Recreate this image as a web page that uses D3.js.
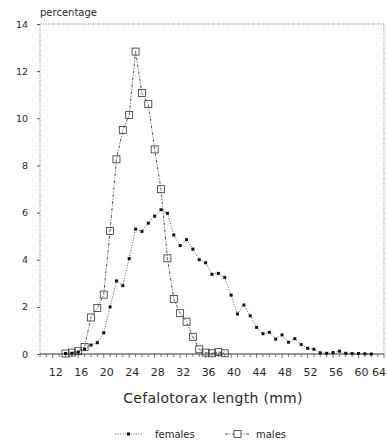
<!DOCTYPE html>
<html>
<head>
<meta charset="utf-8">
<script src="https://cdn.jsdelivr.net/npm/d3@7"></script>
<style>
  body { margin: 0; background: #fff; }
  text { font-family: "DejaVu Sans", sans-serif; fill: #2a2a2a; }
</style>
</head>
<body>
<div id="chart"></div>
<script>
// cephalothorax length classes (mm)
var femaleSizes = d3.range(14, 63);
var femaleValues = [0.02, 0.03, 0.08, 0.21, 0.38, 0.48, 0.9, 2.0, 3.1, 2.9,
    4.05, 5.3, 5.2, 5.55, 5.85, 6.12, 5.97, 5.05, 4.6, 4.85,
    4.45, 4.0, 3.87, 3.38, 3.42, 3.25, 2.5, 1.7, 2.08, 1.62,
    1.13, 0.86, 0.92, 0.63, 0.81, 0.5, 0.65, 0.4, 0.24, 0.2,
    0.05, 0.03, 0.06, 0.12, 0.03, 0.02, 0.02, 0.01, 0.0];
var maleSizes = d3.range(14, 40);
var maleValues = [0.02, 0.06, 0.12, 0.3, 1.55, 1.95, 2.52, 5.22, 8.26, 9.5,
    10.14, 12.83, 11.07, 10.6, 8.68, 6.99, 4.06, 2.33, 1.73, 1.37,
    0.73, 0.2, 0.06, 0.03, 0.08, 0.03];
var xTickLabels = [12, 16, 20, 24, 28, 32, 36, 40, 44, 48, 52, 56, 60, 64];
var yTickLabels = [0, 2, 4, 6, 8, 10, 12, 14];

var width = 387, height = 443;
var svg = d3.select('#chart').append('svg')
    .attr('width', width)
    .attr('height', height);

var x = d3.scaleLinear().domain([10, 64]).range([40, 384]);
var y = d3.scaleLinear().domain([0, 14]).range([354, 24]);

var ink = '#444';

// frame: dotted left, top and right sides
svg.append('path')
    .attr('d', 'M' + x(64) + ',' + y(0) + 'V' + y(14) + 'H' + x(10) + 'V' + y(0))
    .attr('fill', 'none')
    .attr('stroke', '#777')
    .attr('stroke-width', 1)
    .attr('stroke-dasharray', '1,1.5');

// x axis with a minor tick every mm
var xAxis = svg.append('g')
    .attr('transform', 'translate(0,' + y(0) + ')');
xAxis.append('line')
    .attr('x1', x(10)).attr('x2', x(64))
    .attr('stroke', '#333').attr('stroke-width', 1.2);
xAxis.selectAll('.minor')
    .data(d3.range(10, 65))
    .enter().append('line')
    .attr('class', 'minor')
    .attr('x1', function (d) { return x(d); })
    .attr('x2', function (d) { return x(d); })
    .attr('y1', 0)
    .attr('y2', function (d) { return d % 4 === 0 ? 4 : 3; })
    .attr('stroke', '#555').attr('stroke-width', 0.8);
xAxis.selectAll('.xlab')
    .data(xTickLabels)
    .enter().append('text')
    .attr('class', 'xlab')
    // the last label sits against the right edge
    .attr('x', function (d) { return d === 64 ? width - 1 : x(d) + 3; })
    .attr('y', 22)
    .attr('text-anchor', function (d) { return d === 64 ? 'end' : 'middle'; })
    .attr('font-size', 11)
    .text(function (d) { return d; });

// y axis
var yAxis = svg.append('g')
    .attr('transform', 'translate(' + x(10) + ',0)')
    .call(d3.axisLeft(y).tickValues(yTickLabels).tickSize(3).tickPadding(9));
yAxis.select('.domain').remove();
yAxis.selectAll('line').attr('stroke', '#555');
yAxis.selectAll('text')
    .attr('font-size', 9.5)
    .attr('font-family', '"DejaVu Sans", sans-serif')
    .attr('fill', '#2a2a2a');

svg.append('text')
    .attr('x', 40)
    .attr('y', 16)
    .attr('font-size', 10)
    .text('percentage');

svg.append('text')
    .attr('x', 213)
    .attr('y', 403)
    .attr('text-anchor', 'middle')
    .attr('font-size', 14)
    .attr('letter-spacing', 0.3)
    .text('Cefalotorax length (mm)');

var line = d3.line()
    .x(function (d) { return x(d[0]); })
    .y(function (d) { return y(d[1]); });

var females = d3.zip(femaleSizes, femaleValues);
var males = d3.zip(maleSizes, maleValues);

svg.append('path')
    .datum(females)
    .attr('d', line)
    .attr('fill', 'none')
    .attr('stroke', ink)
    .attr('stroke-width', 0.9)
    .attr('stroke-dasharray', '1,1.6');

svg.append('path')
    .datum(males)
    .attr('d', line)
    .attr('fill', 'none')
    .attr('stroke', ink)
    .attr('stroke-width', 0.9)
    .attr('stroke-dasharray', '3,1.5,1,1.5');

svg.selectAll('.fdot')
    .data(females)
    .enter().append('rect')
    .attr('class', 'fdot')
    .attr('x', function (d) { return x(d[0]) - 1.5; })
    .attr('y', function (d) { return y(d[1]) - 1.5; })
    .attr('width', 3).attr('height', 3)
    .attr('fill', '#111');

svg.selectAll('.msq')
    .data(males)
    .enter().append('rect')
    .attr('class', 'msq')
    .attr('x', function (d) { return x(d[0]) - 3.5; })
    .attr('y', function (d) { return y(d[1]) - 3.5; })
    .attr('width', 7).attr('height', 7)
    .attr('fill', 'none')
    .attr('stroke', '#333')
    .attr('stroke-width', 0.8);

// legend
var legend = svg.append('g').attr('transform', 'translate(0,434)');
legend.append('line')
    .attr('x1', 115).attr('x2', 143)
    .attr('stroke', ink).attr('stroke-width', 0.9)
    .attr('stroke-dasharray', '1,1.6');
legend.append('rect')
    .attr('x', 127).attr('y', -1.5).attr('width', 3).attr('height', 3)
    .attr('fill', '#111');
legend.append('text')
    .attr('x', 155).attr('y', 4)
    .attr('font-size', 10)
    .text('females');
legend.append('line')
    .attr('x1', 225).attr('x2', 250)
    .attr('stroke', ink).attr('stroke-width', 0.9)
    .attr('stroke-dasharray', '3,1.5,1,1.5');
legend.append('rect')
    .attr('x', 234).attr('y', -3.5).attr('width', 7).attr('height', 7)
    .attr('fill', '#fff')
    .attr('stroke', '#333').attr('stroke-width', 0.8);
legend.append('text')
    .attr('x', 256).attr('y', 4)
    .attr('font-size', 10)
    .text('males');
</script>
</body>
</html>
